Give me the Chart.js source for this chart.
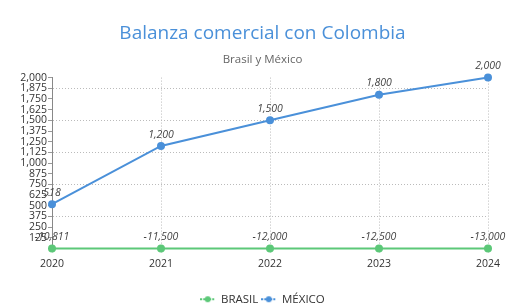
<!DOCTYPE html>
<html>
<head>
<meta charset="utf-8">
<script src="https://cdn.jsdelivr.net/npm/chart.js@4/dist/chart.umd.min.js"></script>
<style>
html,body{margin:0;padding:0;background:#fff;}
#wrap{width:525px;height:308px;position:relative;}
</style>
</head>
<body>
<div id="wrap"><canvas id="c"></canvas></div>
<script>
const years = ['2020', '2021', '2022', '2023', '2024'];
const brasil = [-10811, -11500, -12000, -12500, -13000];
const mexico = [518, 1200, 1500, 1800, 2000];
const yMin = 0, yMax = 2000, yStep = 125;

const GREEN = '#5cc878';
const BLUE = '#4a90d9';
const FONT = "'Open Sans', 'Noto Sans', sans-serif";

function legendIcon(color) {
  const c = document.createElement('canvas');
  c.width = 15; c.height = 8;
  const g = c.getContext('2d');
  g.fillStyle = color;
  for (let x = 0; x < 15; x += 3) g.fillRect(x, 3, 2, 2);
  g.beginPath(); g.arc(7.5, 4, 3, 0, Math.PI * 2); g.fill();
  return c;
}

const labelPlugin = {
  id: 'valueLabels',
  afterDatasetsDraw(chart) {
    const ctx = chart.ctx;
    ctx.save();
    ctx.font = "italic 10.5px " + FONT;
    ctx.fillStyle = '#444';
    ctx.textAlign = 'center';
    ctx.textBaseline = 'bottom';
    chart.data.datasets.forEach((ds, i) => {
      const meta = chart.getDatasetMeta(i);
      meta.data.forEach((pt, j) => {
        const v = ds.raw[j];
        ctx.fillText(v.toLocaleString('en-US'), pt.x, pt.y - 6);
      });
    });
    ctx.restore();
  }
};

new Chart(document.getElementById('c'), {
  type: 'line',
  data: {
    labels: years,
    datasets: [
      {
        label: 'BRASIL',
        raw: brasil,
        data: brasil.map(v => Math.max(v, yMin)),
        borderColor: GREEN, backgroundColor: GREEN,
        borderWidth: 2, pointRadius: 3, pointHoverRadius: 3,
        pointStyle: 'circle', tension: 0, clip: false
      },
      {
        label: 'MÉXICO',
        raw: mexico,
        data: mexico,
        borderColor: BLUE, backgroundColor: BLUE,
        borderWidth: 2, pointRadius: 3, pointHoverRadius: 3,
        pointStyle: 'circle', tension: 0, clip: false
      }
    ]
  },
  options: {
    responsive: true,
    maintainAspectRatio: false,
    animation: false,
    layout: { padding: { top: 0, left: 0, right: 0, bottom: -7 } },
    plugins: {
      title: {
        display: true,
        text: 'Balanza comercial con Colombia',
        color: BLUE,
        font: { family: FONT, size: 19, weight: 'normal' },
        padding: { top: 22, bottom: 8 }
      },
      subtitle: {
        display: true,
        text: 'Brasil y México',
        color: '#666',
        font: { family: FONT, size: 11.5, weight: 'normal' },
        padding: { top: 0, bottom: 11 }
      },
      legend: {
        position: 'bottom',
        labels: {
          usePointStyle: true,
          pointStyleWidth: 15,
          color: '#333',
          font: { family: FONT, size: 11.5 },
          padding: 3,
          generateLabels(chart) {
            return chart.data.datasets.map((ds, i) => ({
              text: ds.label,
              pointStyle: legendIcon(ds.borderColor),
              fillStyle: ds.borderColor,
              strokeStyle: ds.borderColor,
              lineWidth: 0,
              fontColor: '#333',
              hidden: false,
              datasetIndex: i
            }));
          }
        }
      },
      tooltip: { enabled: false }
    },
    scales: {
      x: {
        offset: false,
        afterFit: s => { s.height = 42; },
        grid: {
          display: true,
          color: '#bbb',
          drawTicks: true,
          tickLength: 4
        },
        border: { display: false, dash: [1, 2] },
        ticks: { color: '#333', font: { family: FONT, size: 10.5 }, padding: 5, maxRotation: 0 }
      },
      y: {
        min: yMin, max: yMax,
        afterFit: s => { s.width = 52; },
        grid: {
          color: c => (c.tick && c.tick.value > 0 && c.tick.value % 375 === 0) ? '#bbb' : 'rgba(0,0,0,0)',
          tickColor: '#999',
          tickLength: 4,
          drawTicks: true
        },
        border: { display: true, color: '#888', width: 1, dash: [1, 2] },
        ticks: {
          stepSize: yStep,
          autoSkip: false,
          color: '#333',
          font: { family: FONT, size: 10.5 },
          padding: 1,
          callback: v => v === 0 ? '' : v.toLocaleString('en-US')
        }
      },
      yRight: {
        position: 'right',
        display: true,
        afterFit: s => { s.width = 37; },
        grid: { display: false, drawTicks: false },
        border: { display: false },
        ticks: { display: false }
      }
    }
  },
  plugins: [labelPlugin]
});
</script>
</body>
</html>
